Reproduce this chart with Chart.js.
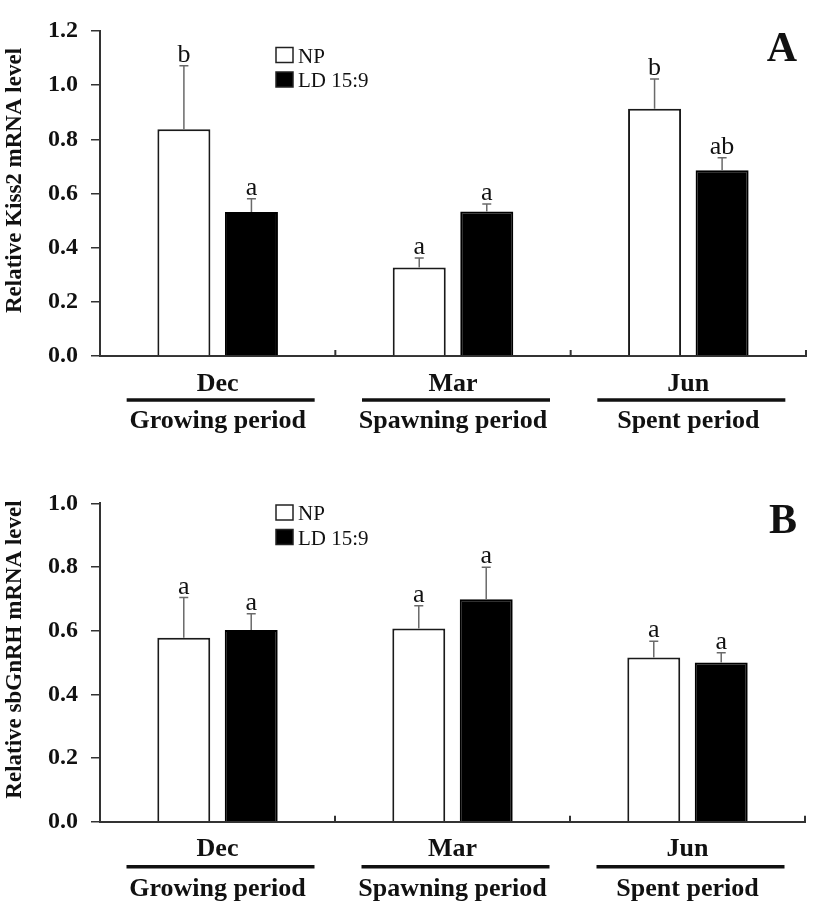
<!DOCTYPE html>
<html><head><meta charset="utf-8">
<script src="https://cdn.jsdelivr.net/npm/chart.js@4/dist/chart.umd.min.js"></script>
<style>
html,body{margin:0;padding:0;background:#fff;}
#wrap{position:relative;width:827px;height:924px;overflow:hidden;}
canvas{position:absolute;left:0;}
#ca{top:0;}
#cb{top:460px;}
</style></head><body>
<div id="wrap">
<canvas id="ca" width="827" height="460"></canvas>
<canvas id="cb" width="827" height="464"></canvas>
</div>
<script>
// ---- data ----
const months = ['Dec', 'Mar', 'Jun'];
const periods = ['Growing period', 'Spawning period', 'Spent period'];
const seriesNames = ['NP', 'LD 15:9'];

const kissNP = [0.837, 0.327, 0.913];
const kissNPErr = [0.235, 0.035, 0.110];
const kissLD = [0.532, 0.534, 0.686];
const kissLDErr = [0.049, 0.027, 0.046];
const kissNPSig = ['b', 'a', 'b'];
const kissLDSig = ['a', 'a', 'ab'];
const kissYMax = 1.2;

const gnrhNP = [0.578, 0.607, 0.516];
const gnrhNPErr = [0.126, 0.071, 0.051];
const gnrhLD = [0.602, 0.699, 0.500];
const gnrhLDErr = [0.051, 0.100, 0.031];
const gnrhNPSig = ['a', 'a', 'a'];
const gnrhLDSig = ['a', 'a', 'a'];
const gnrhYMax = 1.0;

const yStep = 0.2;

const SERIF = '"Liberation Serif", "Times New Roman", serif';

const panelPlugin = {
  id: 'panelDecor',
  afterDatasetsDraw(chart) {
    const cfg = chart.options.plugins.panelDecor;
    const ctx = chart.ctx;
    const y = chart.scales.y, x = chart.scales.x;
    const area = chart.chartArea;
    ctx.save();
    // error bars + significance letters
    chart.data.datasets.forEach((ds, di) => {
      const meta = chart.getDatasetMeta(di);
      meta.data.forEach((bar, i) => {
        const top = y.getPixelForValue(ds.data[i] + ds.err[i]);
        ctx.strokeStyle = '#6a6a6a';
        ctx.lineWidth = 1.5;
        ctx.beginPath();
        ctx.moveTo(bar.x, bar.y);
        ctx.lineTo(bar.x, top);
        ctx.moveTo(bar.x - 4.5, top);
        ctx.lineTo(bar.x + 4.5, top);
        ctx.stroke();
        ctx.fillStyle = '#111';
        ctx.font = '26px ' + SERIF;
        ctx.textAlign = 'center';
        ctx.textBaseline = 'alphabetic';
        ctx.fillText(ds.sig[i], bar.x, top - 4);
      });
    });
    // upward ticks at category boundaries on x axis
    ctx.strokeStyle = '#333';
    ctx.lineWidth = 2;
    const n = chart.data.labels.length;
    for (let i = 0; i < n; i++) {
      const bx = i < n - 1 ? (x.getPixelForValue(i) + x.getPixelForValue(i + 1)) / 2 : area.right;
      ctx.beginPath();
      ctx.moveTo(bx, area.bottom);
      ctx.lineTo(bx, area.bottom - 6);
      ctx.stroke();
    }
    // rules between month and period labels
    ctx.strokeStyle = '#111';
    ctx.lineWidth = 3.5;
    for (let i = 0; i < n; i++) {
      const cx = x.getPixelForValue(i) + 3;
      ctx.beginPath();
      ctx.moveTo(cx - 94, area.bottom + cfg.ruleOffset);
      ctx.lineTo(cx + 94, area.bottom + cfg.ruleOffset);
      ctx.stroke();
    }
    // legend
    chart.data.datasets.forEach((ds, di) => {
      const ly = area.top + cfg.legendTop + di * 24.5;
      ctx.fillStyle = ds.backgroundColor;
      ctx.fillRect(276, ly, 17, 15);
      ctx.strokeStyle = '#222';
      ctx.lineWidth = 1.5;
      ctx.strokeRect(276, ly, 17, 15);
      ctx.fillStyle = '#111';
      ctx.font = '21px ' + SERIF;
      ctx.textAlign = 'left';
      ctx.textBaseline = 'alphabetic';
      ctx.fillText(ds.label, 298, ly + 15);
    });
    // panel letter
    ctx.fillStyle = '#111';
    ctx.font = 'bold 42px ' + SERIF;
    ctx.textAlign = 'right';
    ctx.fillText(cfg.letter, 797, area.top + cfg.letterBase);
    // y title
    ctx.translate(15, (area.top + area.bottom) / 2 - 13);
    ctx.rotate(-Math.PI / 2);
    ctx.font = 'bold 23px ' + SERIF;
    ctx.textAlign = 'center';
    ctx.textBaseline = 'middle';
    ctx.fillText(cfg.yTitle, 0, 0);
    ctx.restore();
  }
};

function makePanel(id, H, top, bottom, right, yMax, np, npErr, npSig, ld, ldErr, ldSig, cfg) {
  return new Chart(document.getElementById(id), {
    type: 'bar',
    data: {
      labels: months.map((m, i) => [m, periods[i]]),
      datasets: [
        { label: seriesNames[0], data: np, err: npErr, sig: npSig,
          backgroundColor: '#ffffff', borderColor: '#1a1a1a', borderWidth: 2 },
        { label: seriesNames[1], data: ld, err: ldErr, sig: ldSig,
          backgroundColor: '#000000', borderColor: '#000000', borderWidth: 2 }
      ]
    },
    options: {
      responsive: false,
      animation: false,
      devicePixelRatio: 1,
      categoryPercentage: 0.574,
      barPercentage: 0.785,
      layout: { padding: { top: top, right: 827 - right, left: 0, bottom: 0 } },
      scales: {
        x: {
          offset: true,
          grid: { display: true, drawOnChartArea: false, drawTicks: false, color: 'rgba(0,0,0,0)' },
          border: { display: true, color: '#333', width: 2 },
          ticks: {
            color: '#111',
            font: { family: SERIF, size: 26, weight: 'bold', lineHeight: cfg.lineH / 26 },
            padding: cfg.tickPad,
            maxRotation: 0, autoSkip: false
          },
          afterFit(s) { s.height = H - bottom; }
        },
        y: {
          min: 0, max: yMax,
          ticks: { stepSize: yStep, color: '#111', padding: 13,
                   font: { family: SERIF, size: 24, weight: 'bold' },
                   callback: v => Number(v).toFixed(1) },
          grid: { drawOnChartArea: false, drawTicks: true, tickLength: 9, color: '#333', lineWidth: 1.5 },
          border: { display: true, color: '#333', width: 2 },
          afterFit(s) { s.width = 100; }
        }
      },
      plugins: {
        legend: { display: false },
        tooltip: { enabled: false },
        panelDecor: cfg
      }
    },
    plugins: [panelPlugin]
  });
}

makePanel('ca', 460, 31, 356, 806, kissYMax, kissNP, kissNPErr, kissNPSig, kissLD, kissLDErr, kissLDSig,
  { letter: 'A', yTitle: 'Relative Kiss2 mRNA level', legendTop: 16.5, letterBase: 30,
    ruleOffset: 44, lineH: 37, tickPad: 10 });
makePanel('cb', 464, 43.3, 361.7, 805, gnrhYMax, gnrhNP, gnrhNPErr, gnrhNPSig, gnrhLD, gnrhLDErr, gnrhLDSig,
  { letter: 'B', yTitle: 'Relative sbGnRH mRNA level', legendTop: 1.7, letterBase: 30,
    ruleOffset: 45, lineH: 40, tickPad: 8 });
</script>
</body></html>
